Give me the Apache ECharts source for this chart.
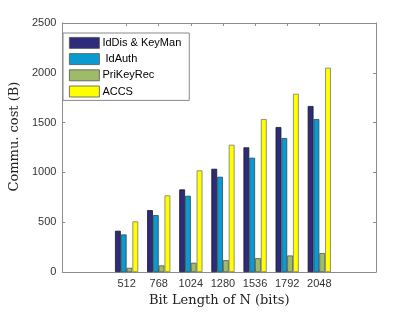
<!DOCTYPE html>
<html>
<head>
<meta charset="utf-8">
<script src="https://cdn.jsdelivr.net/npm/echarts@6/dist/echarts.min.js"></script>
<style>html,body{margin:0;padding:0;background:#fff;}#c{width:415px;height:312px;}</style>
</head>
<body>
<div id="c"></div>
<script>
const bitLengths = [512, 768, 1024, 1280, 1536, 1792, 2048];
const seriesNames = ['IdDis & KeyMan', ' IdAuth', 'PriKeyRec', 'ACCS'];
const idDisKeyMan = [415, 622, 830, 1037, 1252, 1456, 1667];
const idAuth = [378, 572, 766, 957, 1148, 1345, 1536];
const priKeyRec = [43, 67, 94, 120, 140, 167, 191];
const accs = [509, 770, 1021, 1278, 1536, 1790, 2051];
const yTicks = [0, 500, 1000, 1500, 2000, 2500];
const colors = ['#2e2a7c', '#0a9ad0', '#9dbb68', '#ffff00'];
const borders = ['#1a1a1a', '#2a4a5a', '#555555', '#777777'];

const allValues = [idDisKeyMan, idAuth, priKeyRec, accs];
const chart = echarts.init(document.getElementById('c'));
const axisGray = '#8c8c8c';
const labelColor = '#333';
const plain = v => String(v);
const series = allValues.map((vals, i) => ({
  name: seriesNames[i],
  type: 'bar',
  data: bitLengths.map((x, j) => [x, vals[j]]),
  barWidth: 5.8,
  barGap: '0%',
  itemStyle: { color: colors[i], borderColor: borders[i], borderWidth: 0.8 },
  emphasis: { disabled: true },
  animation: false
}));
chart.setOption({
  animation: false,
  backgroundColor: '#fff',
  grid: { left: 54, top: 23, right: 39, bottom: 39, show: false },
  legend: {
    orient: 'vertical',
    left: 63, top: 33,
    padding: [4, 8, 3, 6],
    itemWidth: 30, itemHeight: 11, itemGap: 4.4,
    borderColor: '#888', borderWidth: 1,
    backgroundColor: '#fff',
    icon: 'rect',
    itemStyle: { borderColor: '#555', borderWidth: 0.8 },
    textStyle: { fontFamily: 'Liberation Sans', fontSize: 11, color: '#000', padding: [0, 0, 0, -2] },
    data: seriesNames
  },
  xAxis: [{
    type: 'value', min: 0, max: 2500, position: 'bottom',
    name: 'Bit Length of N (bits)', nameLocation: 'middle', nameGap: 15,
    nameTextStyle: { fontFamily: 'DejaVu Serif', fontSize: 13, color: '#222' },
    axisLine: { show: true, onZero: false, lineStyle: { color: axisGray } },
    axisTick: { show: true, inside: true, length: 3, customValues: bitLengths, lineStyle: { color: axisGray } },
    axisLabel: { customValues: bitLengths, formatter: plain, fontFamily: 'Liberation Sans', fontSize: 11, color: labelColor, margin: 6 },
    splitLine: { show: false }
  }, {
    type: 'value', min: 0, max: 2500, position: 'top',
    axisLine: { show: true, onZero: false, lineStyle: { color: axisGray } },
    axisTick: { show: true, inside: true, length: 3, customValues: bitLengths, lineStyle: { color: axisGray } },
    axisLabel: { show: false },
    splitLine: { show: false }
  }],
  yAxis: [{
    type: 'value', min: 0, max: 2500, interval: 500, position: 'left',
    name: 'Commu. cost (B)', nameLocation: 'middle', nameGap: 35,
    nameTextStyle: { fontFamily: 'DejaVu Serif', fontSize: 13, color: '#222', padding: [0, 0, 0, 22] },
    axisLine: { show: true, onZero: false, lineStyle: { color: axisGray } },
    axisTick: { show: true, inside: true, length: 3, customValues: yTicks, lineStyle: { color: axisGray } },
    axisLabel: { customValues: yTicks, formatter: plain, fontFamily: 'Liberation Sans', fontSize: 11, color: labelColor, margin: 6 },
    splitLine: { show: false }
  }, {
    type: 'value', min: 0, max: 2500, interval: 500, position: 'right',
    axisLine: { show: true, onZero: false, lineStyle: { color: axisGray } },
    axisTick: { show: true, inside: true, length: 3, customValues: yTicks, lineStyle: { color: axisGray } },
    axisLabel: { show: false },
    splitLine: { show: false }
  }],
  series: series
});
</script>
</body>
</html>
